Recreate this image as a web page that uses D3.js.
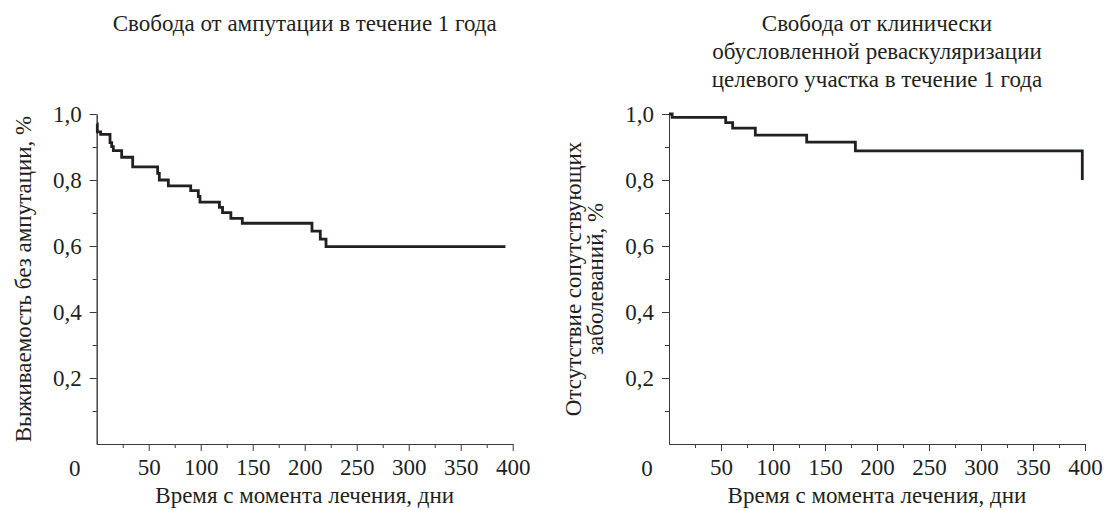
<!DOCTYPE html>
<html lang="ru">
<head>
  <meta charset="UTF-8" />
  <title>Свобода от ампутации и реваскуляризации</title>
  <script src="https://d3js.org/d3.v7.min.js"></script>
  <style>
    body { margin: 0; background: #fff; }
    .axis path, .axis line { stroke: #3a3a3a; stroke-width: 1; }
  </style>
</head>
<body>
  <div id="chart"></div>

  <script>
    // ось X, общая для обоих графиков
    const xMajor = [50, 100, 150, 200, 250, 300, 350, 400];
    const xMinor = [25, 75, 125, 175, 225, 275, 325, 375];
    const yMajor = [0.2, 0.4, 0.6, 0.8, 1.0];
    const yMinor = [0.1, 0.3, 0.5, 0.7, 0.9];

    // левый график: свобода от ампутации
    const ampDays = [0, 0.6, 3.8, 12.8, 14.4, 16, 24, 34.6, 58.6, 60.2, 68.9, 90.4, 97.7, 99.3, 118, 121, 129, 140, 207, 215, 220.5, 393];
    const ampSurv = [0.970, 0.946, 0.938, 0.913, 0.901, 0.889, 0.869, 0.840, 0.820, 0.800, 0.782, 0.768, 0.750, 0.733, 0.717, 0.701, 0.684, 0.669, 0.645, 0.621, 0.598, 0.598];

    // правый график: свобода от реваскуляризации
    const revDays = [0, 3, 54.5, 61.2, 83, 132.4, 179.2, 397.4];
    const revSurv = [1.0, 0.990, 0.974, 0.957, 0.936, 0.915, 0.888, 0.80];

    const xTitle = "Время с момента лечения, дни";

    const FONT = "'Liberation Serif', 'Noto Serif', 'Nimbus Roman', 'Nimbus Roman No9 L', FreeSerif, 'DejaVu Serif', 'Times New Roman', Times, serif";
    const INK = "#231f20";

    const svg = d3.select("#chart").append("svg").attr("width", 1105).attr("height", 510);

    const plotW = 416, plotTop = 114, plotBottom = 444;

    function label(sel) {
      return sel.attr("font-family", FONT).style("font-family", FONT)
        .style("font-size", "23px").attr("fill", INK);
    }

    function drawPanel(left, days, surv, title, yTitle, yTitleX) {
      const g = svg.append("g");
      const x = d3.scaleLinear().domain([0, 400]).range([left, left + plotW]);
      const y = d3.scaleLinear().domain([0, 1]).range([plotBottom, plotTop]);
      const fmt = d => d3.format(".1f")(d).replace(".", ",");

      // минорные деления
      g.append("g").attr("class", "axis").attr("transform", `translate(0,${plotBottom})`)
        .call(d3.axisBottom(x).tickValues(xMinor).tickSize(4).tickSizeOuter(0).tickFormat(""));
      g.append("g").attr("class", "axis").attr("transform", `translate(${left},0)`)
        .call(d3.axisLeft(y).tickValues(yMinor).tickSize(4).tickSizeOuter(0).tickFormat(""));

      const xa = g.append("g").attr("class", "axis").attr("transform", `translate(0,${plotBottom})`)
        .call(d3.axisBottom(x).tickValues(xMajor).tickSize(7).tickSizeOuter(0).tickPadding(8));
      label(xa.selectAll(".tick text")).attr("dy", "0.71em");

      const ya = g.append("g").attr("class", "axis").attr("transform", `translate(${left},0)`)
        .call(d3.axisLeft(y).tickValues(yMajor).tickSize(7).tickSizeOuter(0).tickPadding(8).tickFormat(fmt));
      label(ya.selectAll(".tick text"));

      // "0" в углу, общий для обеих осей
      label(g.append("text")).attr("x", left - 22).attr("y", plotBottom + 32)
        .attr("text-anchor", "middle").text("0");

      label(g.append("text")).attr("x", left + plotW / 2).attr("y", 503)
        .attr("text-anchor", "middle").text(xTitle);

      title.forEach((t, i) => {
        label(g.append("text")).attr("x", left + plotW / 2).attr("y", 31 + i * 28)
          .attr("text-anchor", "middle").text(t);
      });

      yTitle.forEach((t, i) => {
        label(g.append("text"))
          .attr("transform", `translate(${yTitleX + i * 22},${(plotTop + plotBottom) / 2}) rotate(-90)`)
          .attr("text-anchor", "middle").text(t);
      });

      const pts = days.map((d, i) => [d, surv[i]]);
      g.append("path")
        .datum(pts)
        .attr("fill", "none")
        .attr("stroke", INK)
        .attr("stroke-width", 2.8)
        .attr("d", d3.line().x(d => x(d[0])).y(d => y(d[1])).curve(d3.curveStepAfter));
    }

    drawPanel(96.7, ampDays, ampSurv,
      ["Свобода от ампутации в течение 1 года"],
      ["Выживаемость без ампутации, %"], 31);

    drawPanel(669, revDays, revSurv,
      ["Свобода от клинически", "обусловленной реваскуляризации", "целевого участка в течение 1 года"],
      ["Отсутствие сопутствующих", "заболеваний, %"], 581);
  </script>
</body>
</html>
